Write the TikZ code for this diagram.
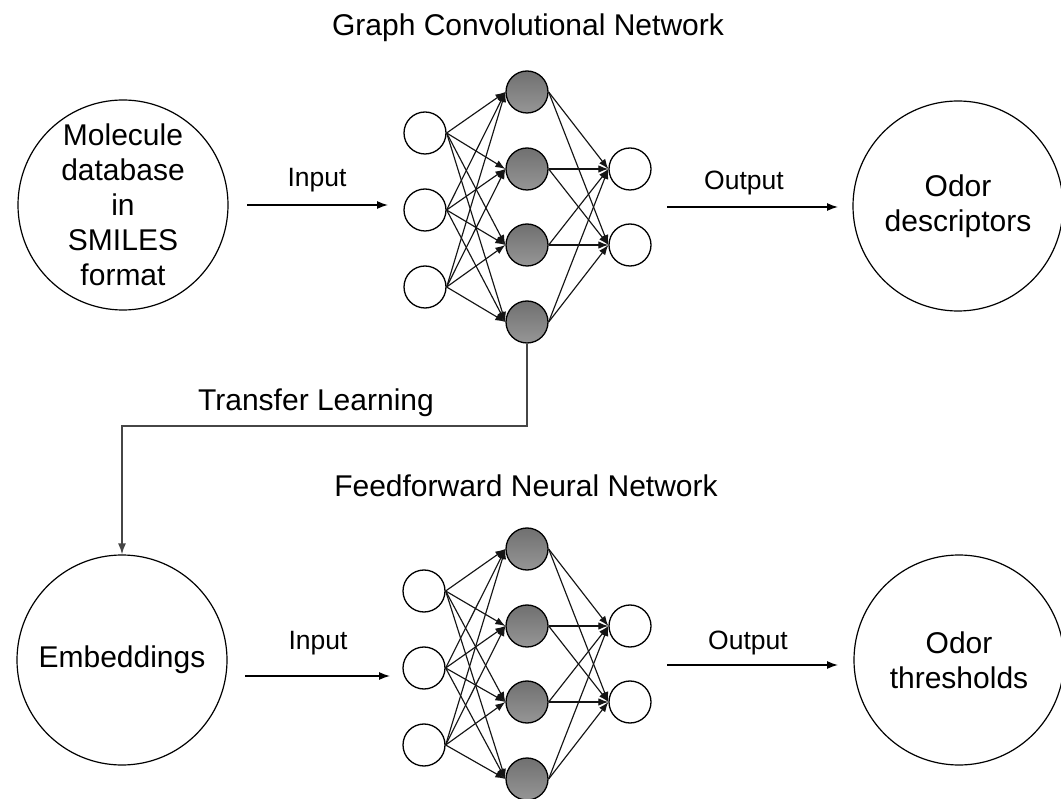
\documentclass[tikz,border=0pt]{standalone}
\usepackage{fontspec}
\setmainfont{Liberation Sans}
\usetikzlibrary{arrows.meta}
\definecolor{linegray}{RGB}{20,20,20}
\definecolor{tlgray}{RGB}{70,70,70}
\definecolor{gtop}{RGB}{112,112,112}
\definecolor{gbot}{RGB}{150,150,150}
\begin{document}
\begin{tikzpicture}[x=1pt,y=-1pt,
  big/.style={circle, draw=black, line width=1.2pt, minimum size=210pt, inner sep=0pt, align=center, font=\fontsize{30}{35}\selectfont},
  inn/.style={circle, draw=black, line width=1.3pt, fill=white, minimum size=42pt, inner sep=0pt},
  hid/.style={circle, draw=black, line width=1.3pt, top color=gtop, bottom color=gbot, minimum size=42pt, inner sep=0pt},
  conn/.style={draw=linegray, line width=1.15pt, -{Latex[length=10pt,width=7.5pt]}},
  flow/.style={draw=black, line width=1.3pt, -{Latex[length=11pt,width=8pt]}},
  tl/.style={draw=tlgray, line width=1.6pt, -{Latex[length=11pt,width=8pt]}},
  lbl/.style={font=\fontsize{26.5}{30}\selectfont},
  ttl/.style={font=\fontsize{30}{34}\selectfont}]
\useasboundingbox (0,0) rectangle (1061,799);
\fill[white] (0,0) rectangle (1061,799);

% big circles
\node[big] (mol) at (123,205) {Molecule\\database\\in\\SMILES\\format};
\node[big] (odd) at (958,206) {Odor\\descriptors};
\node[big] (emb) at (122,660) {Embeddings};
\node[big] (odt) at (959,660) {Odor\\thresholds};

% titles
\node[ttl] (t1) at (528,28) {Graph Convolutional Network};
\node[ttl] (t2) at (526,486) {Feedforward Neural Network};

% GCN network
\foreach \i/\y in {1/133,2/210,3/287} \node[inn] (gi\i) at (425,\y) {};
\foreach \i/\y in {1/92,2/169,3/245,4/322} \node[hid] (gh\i) at (527,\y) {};
\foreach \i/\y in {1/169,2/245} \node[inn] (go\i) at (630,\y) {};
\foreach \i in {1,2,3} \foreach \j in {1,2,3,4} \draw[conn] (gi\i.east) -- (gh\j.west);
\foreach \j in {1,2,3,4} \foreach \k in {1,2} \draw[conn] (gh\j.east) -- (go\k.west);

% FFNN network
\foreach \i/\y in {1/591,2/668,3/745} \node[inn] (fi\i) at (424,\y) {};
\foreach \i/\y in {1/549,2/626,3/702,4/779} \node[hid] (fh\i) at (527,\y) {};
\foreach \i/\y in {1/626,2/702} \node[inn] (fo\i) at (630,\y) {};
\foreach \i in {1,2,3} \foreach \j in {1,2,3,4} \draw[conn] (fi\i.east) -- (fh\j.west);
\foreach \j in {1,2,3,4} \foreach \k in {1,2} \draw[conn] (fh\j.east) -- (fo\k.west);

% main flow arrows
\coordinate (a1s) at (247,205); \coordinate (a1e) at (388,205);
\coordinate (a2s) at (667,207); \coordinate (a2e) at (838,207);
\coordinate (a3s) at (245,676); \coordinate (a3e) at (390,676);
\coordinate (a4s) at (667,665); \coordinate (a4e) at (838,665);
\draw[flow] (a1s) -- (a1e);
\draw[flow] (a2s) -- (a2e);
\draw[flow] (a3s) -- (a3e);
\draw[flow] (a4s) -- (a4e);
\node[lbl] (l1) at (317,180) {Input};
\node[lbl] (l2) at (744,183) {Output};
\node[lbl] (l3) at (318,643) {Input};
\node[lbl] (l4) at (748,643) {Output};

% transfer learning
\coordinate (tlc) at (122,426);
\draw[tl] (gh4.south) |- (tlc) -- (emb.north);
\node[ttl] (tll) at (316,403) {Transfer Learning};
\end{tikzpicture}
\end{document}
